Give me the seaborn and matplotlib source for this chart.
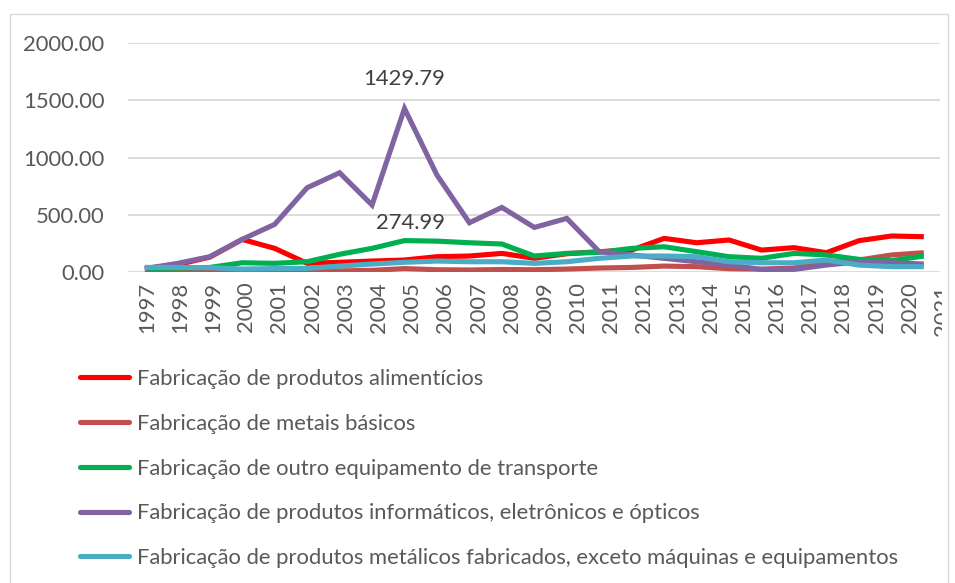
import numpy as np
import pandas as pd
import matplotlib
matplotlib.use("Agg")
import matplotlib.pyplot as plt
import seaborn as sns
from matplotlib.patches import Rectangle
from matplotlib.transforms import Bbox

years = list(range(1997, 2022))
alimenticios = [30, 65, 130, 285, 207, 76, 85, 96, 105, 134, 140, 163, 120, 160, 178, 192,
                294, 256, 280, 192, 213, 169, 274, 315, 309]
metais = [10, 8, 5, 3, 5, 15, 10, 15, 30, 20, 18, 22, 20, 26, 35, 40,
          52, 47, 29, 25, 35, 81, 105, 149, 169]
transporte = [30, 35, 40, 81, 76, 90, 155, 207, 274.99, 270, 256, 245, 140, 163, 172, 207,
              221, 178, 134, 120, 163, 149, 111, 99, 140]
informaticos = [30, 75, 134, 286, 417, 737, 868, 586, 1429.79, 848, 431, 565, 390, 469, 178, 149,
                120, 90, 61, 23, 23, 61, 90, 81, 70]
metalicos = [40, 40, 38, 26, 30, 32, 52, 70, 85, 96, 90, 90, 76, 90, 120, 140,
             140, 134, 90, 81, 81, 105, 61, 47, 47]

series_names = [
    "Fabricação de produtos alimentícios",
    "Fabricação de metais básicos",
    "Fabricação de outro equipamento de transporte",
    "Fabricação de produtos informáticos, eletrônicos e ópticos",
    "Fabricação de produtos metálicos fabricados, exceto máquinas e equipamentos",
]
series_values = [alimenticios, metais, transporte, informaticos, metalicos]
colors = ["#FF0000", "#C0504D", "#00B050", "#8064A2", "#4BACC6"]
ytick_values = [0, 500, 1000, 1500, 2000]
xtick_labels = [str(y) for y in years]

df = pd.DataFrame({
    "Ano": np.tile(years, len(series_names)),
    "Valor": np.concatenate(series_values),
    "Setor": np.repeat(series_names, len(years)),
})

sns.set_theme(style="white")
plt.rcParams["font.family"] = ["Lato", "DejaVu Sans"]

fig = plt.figure(figsize=(9.55, 5.83), dpi=100)
ax = fig.add_axes([0.134, 0.5334, 0.850, 0.3923])

sns.lineplot(data=df, x="Ano", y="Valor", hue="Setor", palette=colors,
             hue_order=series_names, linewidth=3.7, ax=ax, legend=False,
             solid_capstyle="butt", solid_joinstyle="miter")

ax.set_xlim(1996.48, 2021.49)
ax.set_ylim(0, 2000)
ax.set_yticks(ytick_values)
ax.set_yticklabels([f"{v:.2f}" for v in ytick_values])
ax.yaxis.grid(True, color="#d9d9d9", linewidth=1.3)
ax.set_axisbelow(True)
for s in ax.spines.values():
    s.set_visible(False)
ax.set_xlabel("")
ax.set_ylabel("")

fs = 15.8
tick_pos = [1997.06 + i * 1.022 for i in range(len(years))]
ax.set_xticks(tick_pos[:-1])
ax.set_xticklabels(xtick_labels[:-1], rotation=90)
ax.tick_params(axis="both", length=0, labelsize=fs, labelcolor="#595959")
ax.tick_params(axis="y", pad=17)
ax.tick_params(axis="x", pad=7)

# clipped last label like the reference
t = ax.text(tick_pos[-1], -0.055, xtick_labels[-1], transform=ax.get_xaxis_transform(),
            rotation=90, ha="center", va="top", fontsize=fs, color="#595959", clip_on=True)
t.set_clip_box(Bbox.from_extents(0, 0, 942, 583))

# data labels
i05 = years.index(2005)
ax.annotate(f"{informaticos[i05]:.2f}", (years[i05], informaticos[i05]), xytext=(0, 21),
            textcoords="offset points", ha="center", va="center", fontsize=fs, color="#404040")
ax.annotate(f"{transporte[i05]:.2f}", (years[i05], transporte[i05]), xytext=(4, 13),
            textcoords="offset points", ha="center", va="center", fontsize=fs, color="#404040")

handles = [plt.Line2D([], [], color=c, linewidth=3.7) for c in colors]
fig.legend(handles, series_names, loc="upper left", bbox_to_anchor=(0.063, 0.401),
           frameon=False, fontsize=fs, handlelength=2.25, handletextpad=0.36,
           labelspacing=1.13, labelcolor="#595959")

fig.add_artist(Rectangle((10 / 955, -0.01), 938 / 955, 0.986, transform=fig.transFigure,
                         fill=False, edgecolor="#d9d9d9", linewidth=1))

fig.savefig("out.png", dpi=100)
